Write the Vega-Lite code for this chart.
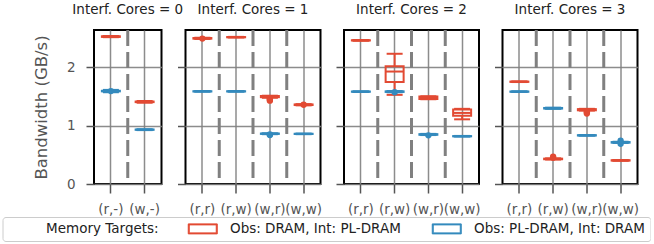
{
  "$schema": "https://vega.github.io/schema/vega-lite/v6.json",
  "padding": {"left": 2, "top": 2, "right": 0, "bottom": 0},
  "bounds": "flush",
  "spacing": 23.5,
  "datasets": {
    "boxes": [
      {"cores": 0, "pair": "(r,-)", "target": "Obs: DRAM, Int: PL-DRAM", "lo": 2.52, "q1": 2.525, "med": 2.53, "q3": 2.535, "hi": 2.54},
      {"cores": 0, "pair": "(w,-)", "target": "Obs: DRAM, Int: PL-DRAM", "lo": 1.395, "q1": 1.405, "med": 1.41, "q3": 1.415, "hi": 1.425},
      {"cores": 0, "pair": "(r,-)", "target": "Obs: PL-DRAM, Int: DRAM", "lo": 1.575, "q1": 1.59, "med": 1.595, "q3": 1.6, "hi": 1.615},
      {"cores": 0, "pair": "(w,-)", "target": "Obs: PL-DRAM, Int: DRAM", "lo": 0.925, "q1": 0.93, "med": 0.932, "q3": 0.935, "hi": 0.94},
      {"cores": 1, "pair": "(r,r)", "target": "Obs: DRAM, Int: PL-DRAM", "lo": 2.49, "q1": 2.495, "med": 2.5, "q3": 2.505, "hi": 2.51},
      {"cores": 1, "pair": "(r,w)", "target": "Obs: DRAM, Int: PL-DRAM", "lo": 2.515, "q1": 2.518, "med": 2.52, "q3": 2.522, "hi": 2.525},
      {"cores": 1, "pair": "(w,r)", "target": "Obs: DRAM, Int: PL-DRAM", "lo": 1.48, "q1": 1.49, "med": 1.5, "q3": 1.51, "hi": 1.515},
      {"cores": 1, "pair": "(w,w)", "target": "Obs: DRAM, Int: PL-DRAM", "lo": 1.35, "q1": 1.355, "med": 1.36, "q3": 1.365, "hi": 1.37},
      {"cores": 1, "pair": "(r,r)", "target": "Obs: PL-DRAM, Int: DRAM", "lo": 1.585, "q1": 1.588, "med": 1.59, "q3": 1.592, "hi": 1.595},
      {"cores": 1, "pair": "(r,w)", "target": "Obs: PL-DRAM, Int: DRAM", "lo": 1.585, "q1": 1.588, "med": 1.59, "q3": 1.592, "hi": 1.595},
      {"cores": 1, "pair": "(w,r)", "target": "Obs: PL-DRAM, Int: DRAM", "lo": 0.855, "q1": 0.86, "med": 0.863, "q3": 0.866, "hi": 0.87},
      {"cores": 1, "pair": "(w,w)", "target": "Obs: PL-DRAM, Int: DRAM", "lo": 0.855, "q1": 0.858, "med": 0.86, "q3": 0.862, "hi": 0.865},
      {"cores": 2, "pair": "(r,r)", "target": "Obs: DRAM, Int: PL-DRAM", "lo": 2.46, "q1": 2.463, "med": 2.465, "q3": 2.467, "hi": 2.47},
      {"cores": 2, "pair": "(r,w)", "target": "Obs: DRAM, Int: PL-DRAM", "lo": 1.53, "q1": 1.75, "med": 1.93, "q3": 2.02, "hi": 2.235},
      {"cores": 2, "pair": "(w,r)", "target": "Obs: DRAM, Int: PL-DRAM", "lo": 1.455, "q1": 1.46, "med": 1.48, "q3": 1.5, "hi": 1.505},
      {"cores": 2, "pair": "(w,w)", "target": "Obs: DRAM, Int: PL-DRAM", "lo": 1.11, "q1": 1.17, "med": 1.22, "q3": 1.28, "hi": 1.29},
      {"cores": 2, "pair": "(r,r)", "target": "Obs: PL-DRAM, Int: DRAM", "lo": 1.58, "q1": 1.583, "med": 1.585, "q3": 1.587, "hi": 1.59},
      {"cores": 2, "pair": "(r,w)", "target": "Obs: PL-DRAM, Int: DRAM", "lo": 1.575, "q1": 1.58, "med": 1.585, "q3": 1.59, "hi": 1.595},
      {"cores": 2, "pair": "(w,r)", "target": "Obs: PL-DRAM, Int: DRAM", "lo": 0.84, "q1": 0.845, "med": 0.85, "q3": 0.855, "hi": 0.86},
      {"cores": 2, "pair": "(w,w)", "target": "Obs: PL-DRAM, Int: DRAM", "lo": 0.815, "q1": 0.818, "med": 0.82, "q3": 0.822, "hi": 0.825},
      {"cores": 3, "pair": "(r,r)", "target": "Obs: DRAM, Int: PL-DRAM", "lo": 1.75, "q1": 1.753, "med": 1.755, "q3": 1.757, "hi": 1.76},
      {"cores": 3, "pair": "(r,w)", "target": "Obs: DRAM, Int: PL-DRAM", "lo": 0.42, "q1": 0.425, "med": 0.43, "q3": 0.435, "hi": 0.44},
      {"cores": 3, "pair": "(w,r)", "target": "Obs: DRAM, Int: PL-DRAM", "lo": 1.26, "q1": 1.265, "med": 1.275, "q3": 1.285, "hi": 1.29},
      {"cores": 3, "pair": "(w,w)", "target": "Obs: DRAM, Int: PL-DRAM", "lo": 0.4, "q1": 0.402, "med": 0.405, "q3": 0.408, "hi": 0.41},
      {"cores": 3, "pair": "(r,r)", "target": "Obs: PL-DRAM, Int: DRAM", "lo": 1.58, "q1": 1.583, "med": 1.585, "q3": 1.587, "hi": 1.59},
      {"cores": 3, "pair": "(r,w)", "target": "Obs: PL-DRAM, Int: DRAM", "lo": 1.29, "q1": 1.295, "med": 1.3, "q3": 1.305, "hi": 1.31},
      {"cores": 3, "pair": "(w,r)", "target": "Obs: PL-DRAM, Int: DRAM", "lo": 0.83, "q1": 0.832, "med": 0.835, "q3": 0.838, "hi": 0.84},
      {"cores": 3, "pair": "(w,w)", "target": "Obs: PL-DRAM, Int: DRAM", "lo": 0.705, "q1": 0.71, "med": 0.715, "q3": 0.72, "hi": 0.725}
    ],
    "fliers": [
      {"cores": 1, "pair": "(r,r)", "target": "Obs: DRAM, Int: PL-DRAM", "value": 2.495},
      {"cores": 1, "pair": "(w,r)", "target": "Obs: DRAM, Int: PL-DRAM", "value": 1.475},
      {"cores": 1, "pair": "(w,r)", "target": "Obs: DRAM, Int: PL-DRAM", "value": 1.46},
      {"cores": 1, "pair": "(w,r)", "target": "Obs: DRAM, Int: PL-DRAM", "value": 1.445},
      {"cores": 1, "pair": "(w,r)", "target": "Obs: DRAM, Int: PL-DRAM", "value": 1.43},
      {"cores": 1, "pair": "(w,w)", "target": "Obs: DRAM, Int: PL-DRAM", "value": 1.36},
      {"cores": 3, "pair": "(r,w)", "target": "Obs: DRAM, Int: PL-DRAM", "value": 0.45},
      {"cores": 3, "pair": "(r,w)", "target": "Obs: DRAM, Int: PL-DRAM", "value": 0.47},
      {"cores": 3, "pair": "(w,r)", "target": "Obs: DRAM, Int: PL-DRAM", "value": 1.25},
      {"cores": 3, "pair": "(w,r)", "target": "Obs: DRAM, Int: PL-DRAM", "value": 1.23},
      {"cores": 3, "pair": "(w,r)", "target": "Obs: DRAM, Int: PL-DRAM", "value": 1.21},
      {"cores": 0, "pair": "(r,-)", "target": "Obs: PL-DRAM, Int: DRAM", "value": 1.595},
      {"cores": 1, "pair": "(w,r)", "target": "Obs: PL-DRAM, Int: DRAM", "value": 0.85},
      {"cores": 1, "pair": "(w,r)", "target": "Obs: PL-DRAM, Int: DRAM", "value": 0.84},
      {"cores": 2, "pair": "(r,w)", "target": "Obs: PL-DRAM, Int: DRAM", "value": 1.575},
      {"cores": 2, "pair": "(w,r)", "target": "Obs: PL-DRAM, Int: DRAM", "value": 0.835},
      {"cores": 3, "pair": "(w,w)", "target": "Obs: PL-DRAM, Int: DRAM", "value": 0.745},
      {"cores": 3, "pair": "(w,w)", "target": "Obs: PL-DRAM, Int: DRAM", "value": 0.69}
    ],
    "seps": [
      {"cores": 0, "pair": "(r,-)"},
      {"cores": 1, "pair": "(r,r)"}, {"cores": 1, "pair": "(r,w)"}, {"cores": 1, "pair": "(w,r)"},
      {"cores": 2, "pair": "(r,r)"}, {"cores": 2, "pair": "(r,w)"}, {"cores": 2, "pair": "(w,r)"},
      {"cores": 3, "pair": "(r,r)"}, {"cores": 3, "pair": "(r,w)"}, {"cores": 3, "pair": "(w,r)"}
    ]
  },
  "resolve": {"scale": {"x": "independent", "color": "shared", "fill": "shared", "stroke": "shared"}, "legend": {"color": "shared"}},
  "hconcat": [
    {
      "width": 67.5, "height": 154,
      "title": "Interf. Cores = 0",
      "layer": [
        {"data": {"name": "seps"}, "transform": [{"filter": "datum.cores == 0"}],
         "mark": {"type": "rule", "strokeDash": [16, 6], "strokeWidth": 3, "color": "#808080"},
         "encoding": {"x": {"field": "pair", "type": "nominal", "bandPosition": 1, "scale": {"domain": ["(r,-)", "(w,-)"], "paddingInner": 0, "paddingOuter": 0}, "title": null}}},
        {"data": {"name": "boxes"}, "transform": [{"filter": "datum.cores == 0"}],
         "mark": {"type": "bar", "filled": false, "strokeWidth": 2, "size": 18},
         "encoding": {"x": {"field": "pair", "type": "nominal", "title": null},
           "y": {"field": "q1", "type": "quantitative", "scale": {"domain": [0, 2.643], "nice": false, "zero": false}, "title": "Bandwidth (GB/s)"},
           "y2": {"field": "q3"},
           "color": {"field": "target", "type": "nominal", "scale": {"domain": ["Obs: DRAM, Int: PL-DRAM", "Obs: PL-DRAM, Int: DRAM"], "range": ["#E24A33", "#348ABD"]}, "title": "\u200d\u00a0\u00a0\u00a0\u00a0\u00a0\u00a0\u00a0\u00a0\u00a0Memory Targets:", "legend": {"symbolType": "M-1,-1H4.8V1H-1V-0.8H-0.8V0.8H4.6V-0.8H-1Z", "symbolStrokeWidth": 1}}}},
        {"data": {"name": "boxes"}, "transform": [{"filter": "datum.cores == 0"}],
         "mark": {"type": "rule", "strokeWidth": 2},
         "encoding": {"x": {"field": "pair", "type": "nominal", "title": null},
           "y": {"field": "lo", "type": "quantitative", "title": "Bandwidth (GB/s)"}, "y2": {"field": "q1"},
           "stroke": {"field": "target", "type": "nominal", "scale": {"domain": ["Obs: DRAM, Int: PL-DRAM", "Obs: PL-DRAM, Int: DRAM"], "range": ["#E24A33", "#348ABD"]}, "legend": null}}},
        {"data": {"name": "boxes"}, "transform": [{"filter": "datum.cores == 0"}],
         "mark": {"type": "rule", "strokeWidth": 2},
         "encoding": {"x": {"field": "pair", "type": "nominal", "title": null},
           "y": {"field": "q3", "type": "quantitative", "title": "Bandwidth (GB/s)"}, "y2": {"field": "hi"},
           "stroke": {"field": "target", "type": "nominal", "legend": null}}},
        {"data": {"name": "boxes"}, "transform": [{"filter": "datum.cores == 0"}],
         "mark": {"type": "tick", "thickness": 2, "size": 16, "opacity": 1},
         "encoding": {"x": {"field": "pair", "type": "nominal", "title": null},
           "y": {"field": "lo", "type": "quantitative", "title": "Bandwidth (GB/s)"},
           "fill": {"field": "target", "type": "nominal", "scale": {"domain": ["Obs: DRAM, Int: PL-DRAM", "Obs: PL-DRAM, Int: DRAM"], "range": ["#E24A33", "#348ABD"]}, "legend": null}}},
        {"data": {"name": "boxes"}, "transform": [{"filter": "datum.cores == 0"}],
         "mark": {"type": "tick", "thickness": 2, "size": 16, "opacity": 1},
         "encoding": {"x": {"field": "pair", "type": "nominal", "title": null},
           "y": {"field": "hi", "type": "quantitative", "title": "Bandwidth (GB/s)"},
           "fill": {"field": "target", "type": "nominal", "legend": null}}},
        {"data": {"name": "boxes"}, "transform": [{"filter": "datum.cores == 0"}],
         "mark": {"type": "tick", "thickness": 2, "size": 18, "opacity": 1},
         "encoding": {"x": {"field": "pair", "type": "nominal", "title": null},
           "y": {"field": "med", "type": "quantitative", "title": "Bandwidth (GB/s)"},
           "fill": {"field": "target", "type": "nominal", "legend": null}}},
        {"data": {"name": "fliers"}, "transform": [{"filter": "datum.cores == 0"}],
         "mark": {"type": "circle", "size": 40, "opacity": 1},
         "encoding": {"x": {"field": "pair", "type": "nominal", "title": null},
           "y": {"field": "value", "type": "quantitative", "title": "Bandwidth (GB/s)"},
           "fill": {"field": "target", "type": "nominal", "legend": null}}}
      ]
    },
    {
      "width": 135, "height": 154,
      "title": "Interf. Cores = 1",
      "layer": [
        {"data": {"name": "seps"}, "transform": [{"filter": "datum.cores == 1"}],
         "mark": {"type": "rule", "strokeDash": [16, 6], "strokeWidth": 3, "color": "#808080"},
         "encoding": {"x": {"field": "pair", "type": "nominal", "bandPosition": 1, "scale": {"domain": ["(r,r)", "(r,w)", "(w,r)", "(w,w)"], "paddingInner": 0, "paddingOuter": 0}, "title": null}}},
        {"data": {"name": "boxes"}, "transform": [{"filter": "datum.cores == 1"}],
         "mark": {"type": "bar", "filled": false, "strokeWidth": 2, "size": 18},
         "encoding": {"x": {"field": "pair", "type": "nominal", "title": null},
           "y": {"field": "q1", "type": "quantitative", "scale": {"domain": [0, 2.643], "nice": false, "zero": false}, "axis": {"labels": false}, "title": null},
           "y2": {"field": "q3"},
           "color": {"field": "target", "type": "nominal", "title": "\u200d\u00a0\u00a0\u00a0\u00a0\u00a0\u00a0\u00a0\u00a0\u00a0Memory Targets:", "legend": {"symbolType": "M-1,-1H4.8V1H-1V-0.8H-0.8V0.8H4.6V-0.8H-1Z", "symbolStrokeWidth": 1}}}},
        {"data": {"name": "boxes"}, "transform": [{"filter": "datum.cores == 1"}],
         "mark": {"type": "rule", "strokeWidth": 2},
         "encoding": {"x": {"field": "pair", "type": "nominal", "title": null},
           "y": {"field": "lo", "type": "quantitative", "axis": {"labels": false}, "title": null}, "y2": {"field": "q1"},
           "stroke": {"field": "target", "type": "nominal", "legend": null}}},
        {"data": {"name": "boxes"}, "transform": [{"filter": "datum.cores == 1"}],
         "mark": {"type": "rule", "strokeWidth": 2},
         "encoding": {"x": {"field": "pair", "type": "nominal", "title": null},
           "y": {"field": "q3", "type": "quantitative", "axis": {"labels": false}, "title": null}, "y2": {"field": "hi"},
           "stroke": {"field": "target", "type": "nominal", "legend": null}}},
        {"data": {"name": "boxes"}, "transform": [{"filter": "datum.cores == 1"}],
         "mark": {"type": "tick", "thickness": 2, "size": 16, "opacity": 1},
         "encoding": {"x": {"field": "pair", "type": "nominal", "title": null},
           "y": {"field": "lo", "type": "quantitative", "axis": {"labels": false}, "title": null},
           "fill": {"field": "target", "type": "nominal", "legend": null}}},
        {"data": {"name": "boxes"}, "transform": [{"filter": "datum.cores == 1"}],
         "mark": {"type": "tick", "thickness": 2, "size": 16, "opacity": 1},
         "encoding": {"x": {"field": "pair", "type": "nominal", "title": null},
           "y": {"field": "hi", "type": "quantitative", "axis": {"labels": false}, "title": null},
           "fill": {"field": "target", "type": "nominal", "legend": null}}},
        {"data": {"name": "boxes"}, "transform": [{"filter": "datum.cores == 1"}],
         "mark": {"type": "tick", "thickness": 2, "size": 18, "opacity": 1},
         "encoding": {"x": {"field": "pair", "type": "nominal", "title": null},
           "y": {"field": "med", "type": "quantitative", "axis": {"labels": false}, "title": null},
           "fill": {"field": "target", "type": "nominal", "legend": null}}},
        {"data": {"name": "fliers"}, "transform": [{"filter": "datum.cores == 1"}],
         "mark": {"type": "circle", "size": 40, "opacity": 1},
         "encoding": {"x": {"field": "pair", "type": "nominal", "title": null},
           "y": {"field": "value", "type": "quantitative", "axis": {"labels": false}, "title": null},
           "fill": {"field": "target", "type": "nominal", "legend": null}}}
      ]
    },
    {
      "width": 135, "height": 154,
      "title": "Interf. Cores = 2",
      "layer": [
        {"data": {"name": "seps"}, "transform": [{"filter": "datum.cores == 2"}],
         "mark": {"type": "rule", "strokeDash": [16, 6], "strokeWidth": 3, "color": "#808080"},
         "encoding": {"x": {"field": "pair", "type": "nominal", "bandPosition": 1, "scale": {"domain": ["(r,r)", "(r,w)", "(w,r)", "(w,w)"], "paddingInner": 0, "paddingOuter": 0}, "title": null}}},
        {"data": {"name": "boxes"}, "transform": [{"filter": "datum.cores == 2"}],
         "mark": {"type": "bar", "filled": false, "strokeWidth": 2, "size": 18},
         "encoding": {"x": {"field": "pair", "type": "nominal", "title": null},
           "y": {"field": "q1", "type": "quantitative", "scale": {"domain": [0, 2.643], "nice": false, "zero": false}, "axis": {"labels": false}, "title": null},
           "y2": {"field": "q3"},
           "color": {"field": "target", "type": "nominal", "title": "\u200d\u00a0\u00a0\u00a0\u00a0\u00a0\u00a0\u00a0\u00a0\u00a0Memory Targets:", "legend": {"symbolType": "M-1,-1H4.8V1H-1V-0.8H-0.8V0.8H4.6V-0.8H-1Z", "symbolStrokeWidth": 1}}}},
        {"data": {"name": "boxes"}, "transform": [{"filter": "datum.cores == 2"}],
         "mark": {"type": "rule", "strokeWidth": 2},
         "encoding": {"x": {"field": "pair", "type": "nominal", "title": null},
           "y": {"field": "lo", "type": "quantitative", "axis": {"labels": false}, "title": null}, "y2": {"field": "q1"},
           "stroke": {"field": "target", "type": "nominal", "legend": null}}},
        {"data": {"name": "boxes"}, "transform": [{"filter": "datum.cores == 2"}],
         "mark": {"type": "rule", "strokeWidth": 2},
         "encoding": {"x": {"field": "pair", "type": "nominal", "title": null},
           "y": {"field": "q3", "type": "quantitative", "axis": {"labels": false}, "title": null}, "y2": {"field": "hi"},
           "stroke": {"field": "target", "type": "nominal", "legend": null}}},
        {"data": {"name": "boxes"}, "transform": [{"filter": "datum.cores == 2"}],
         "mark": {"type": "tick", "thickness": 2, "size": 16, "opacity": 1},
         "encoding": {"x": {"field": "pair", "type": "nominal", "title": null},
           "y": {"field": "lo", "type": "quantitative", "axis": {"labels": false}, "title": null},
           "fill": {"field": "target", "type": "nominal", "legend": null}}},
        {"data": {"name": "boxes"}, "transform": [{"filter": "datum.cores == 2"}],
         "mark": {"type": "tick", "thickness": 2, "size": 16, "opacity": 1},
         "encoding": {"x": {"field": "pair", "type": "nominal", "title": null},
           "y": {"field": "hi", "type": "quantitative", "axis": {"labels": false}, "title": null},
           "fill": {"field": "target", "type": "nominal", "legend": null}}},
        {"data": {"name": "boxes"}, "transform": [{"filter": "datum.cores == 2"}],
         "mark": {"type": "tick", "thickness": 2, "size": 18, "opacity": 1},
         "encoding": {"x": {"field": "pair", "type": "nominal", "title": null},
           "y": {"field": "med", "type": "quantitative", "axis": {"labels": false}, "title": null},
           "fill": {"field": "target", "type": "nominal", "legend": null}}},
        {"data": {"name": "fliers"}, "transform": [{"filter": "datum.cores == 2"}],
         "mark": {"type": "circle", "size": 40, "opacity": 1},
         "encoding": {"x": {"field": "pair", "type": "nominal", "title": null},
           "y": {"field": "value", "type": "quantitative", "axis": {"labels": false}, "title": null},
           "fill": {"field": "target", "type": "nominal", "legend": null}}}
      ]
    },
    {
      "width": 135, "height": 154,
      "title": "Interf. Cores = 3",
      "layer": [
        {"data": {"name": "seps"}, "transform": [{"filter": "datum.cores == 3"}],
         "mark": {"type": "rule", "strokeDash": [16, 6], "strokeWidth": 3, "color": "#808080"},
         "encoding": {"x": {"field": "pair", "type": "nominal", "bandPosition": 1, "scale": {"domain": ["(r,r)", "(r,w)", "(w,r)", "(w,w)"], "paddingInner": 0, "paddingOuter": 0}, "title": null}}},
        {"data": {"name": "boxes"}, "transform": [{"filter": "datum.cores == 3"}],
         "mark": {"type": "bar", "filled": false, "strokeWidth": 2, "size": 18},
         "encoding": {"x": {"field": "pair", "type": "nominal", "title": null},
           "y": {"field": "q1", "type": "quantitative", "scale": {"domain": [0, 2.643], "nice": false, "zero": false}, "axis": {"labels": false}, "title": null},
           "y2": {"field": "q3"},
           "color": {"field": "target", "type": "nominal", "title": "\u200d\u00a0\u00a0\u00a0\u00a0\u00a0\u00a0\u00a0\u00a0\u00a0Memory Targets:", "legend": {"symbolType": "M-1,-1H4.8V1H-1V-0.8H-0.8V0.8H4.6V-0.8H-1Z", "symbolStrokeWidth": 1}}}},
        {"data": {"name": "boxes"}, "transform": [{"filter": "datum.cores == 3"}],
         "mark": {"type": "rule", "strokeWidth": 2},
         "encoding": {"x": {"field": "pair", "type": "nominal", "title": null},
           "y": {"field": "lo", "type": "quantitative", "axis": {"labels": false}, "title": null}, "y2": {"field": "q1"},
           "stroke": {"field": "target", "type": "nominal", "legend": null}}},
        {"data": {"name": "boxes"}, "transform": [{"filter": "datum.cores == 3"}],
         "mark": {"type": "rule", "strokeWidth": 2},
         "encoding": {"x": {"field": "pair", "type": "nominal", "title": null},
           "y": {"field": "q3", "type": "quantitative", "axis": {"labels": false}, "title": null}, "y2": {"field": "hi"},
           "stroke": {"field": "target", "type": "nominal", "legend": null}}},
        {"data": {"name": "boxes"}, "transform": [{"filter": "datum.cores == 3"}],
         "mark": {"type": "tick", "thickness": 2, "size": 16, "opacity": 1},
         "encoding": {"x": {"field": "pair", "type": "nominal", "title": null},
           "y": {"field": "lo", "type": "quantitative", "axis": {"labels": false}, "title": null},
           "fill": {"field": "target", "type": "nominal", "legend": null}}},
        {"data": {"name": "boxes"}, "transform": [{"filter": "datum.cores == 3"}],
         "mark": {"type": "tick", "thickness": 2, "size": 16, "opacity": 1},
         "encoding": {"x": {"field": "pair", "type": "nominal", "title": null},
           "y": {"field": "hi", "type": "quantitative", "axis": {"labels": false}, "title": null},
           "fill": {"field": "target", "type": "nominal", "legend": null}}},
        {"data": {"name": "boxes"}, "transform": [{"filter": "datum.cores == 3"}],
         "mark": {"type": "tick", "thickness": 2, "size": 18, "opacity": 1},
         "encoding": {"x": {"field": "pair", "type": "nominal", "title": null},
           "y": {"field": "med", "type": "quantitative", "axis": {"labels": false}, "title": null},
           "fill": {"field": "target", "type": "nominal", "legend": null}}},
        {"data": {"name": "fliers"}, "transform": [{"filter": "datum.cores == 3"}],
         "mark": {"type": "circle", "size": 40, "opacity": 1},
         "encoding": {"x": {"field": "pair", "type": "nominal", "title": null},
           "y": {"field": "value", "type": "quantitative", "axis": {"labels": false}, "title": null},
           "fill": {"field": "target", "type": "nominal", "legend": null}}}
      ]
    }
  ],
  "config": {
    "font": "DejaVu Sans",
    "background": "white",
    "view": {"stroke": "black", "strokeWidth": 2},
    "axis": {"domain": false, "grid": true, "gridColor": "#7f7f7f", "gridWidth": 1.5, "gridOpacity": 0.9, "tickColor": "#555555", "tickWidth": 1.5, "labelColor": "#555555", "labelFontSize": 13.5, "titleColor": "#555555", "titleFontSize": 16.5, "titleFontWeight": "normal", "labelOverlap": false, "labelFlush": false, "labelBound": false},
    "axisX": {"labelAngle": 0, "labelPadding": 9, "tickSize": 9, "bandPosition": 0.5},
    "axisY": {"labelPadding": 11, "titlePadding": 17, "tickCount": 3, "tickSize": 8},
    "title": {"fontSize": 13.5, "fontWeight": "normal", "color": "#222222", "offset": 12, "frame": "group", "anchor": "middle"},
    "legend": {"orient": "none", "legendX": -91.5, "legendY": 187, "direction": "horizontal", "titleOrient": "left", "titleBaseline": "middle", "titleFontSize": 13.5, "titleFontWeight": "normal", "titleColor": "#222222", "titleLimit": 400, "labelFontSize": 13.5, "labelColor": "#222222", "labelLimit": 400, "symbolSize": 100, "labelOffset": 30, "columnPadding": 28, "titlePadding": 27, "padding": 5, "strokeColor": "#cccccc", "cornerRadius": 3, "fillColor": "white"}
  }
}
